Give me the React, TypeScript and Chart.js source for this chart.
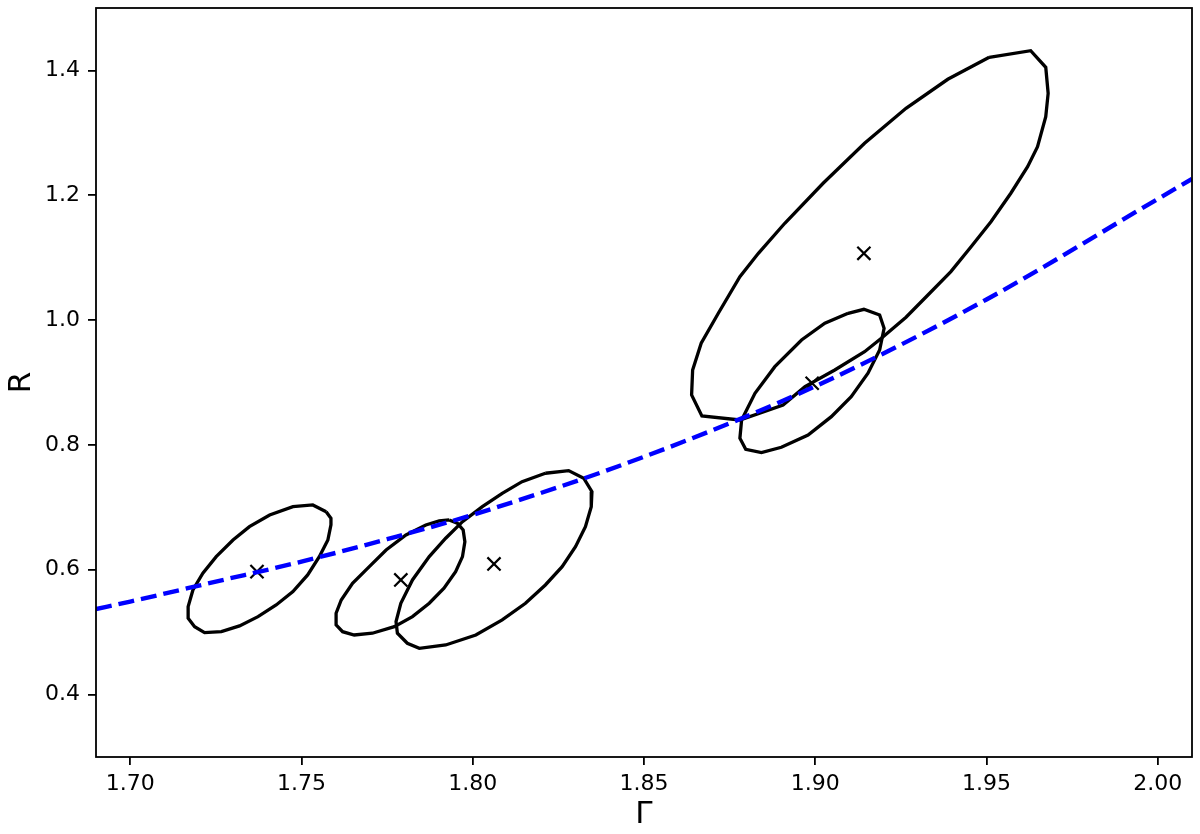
import React, { useEffect, useRef } from "react";
import { Chart, registerables } from "chart.js";

Chart.register(...registerables);

const X_TICKS = [1.7, 1.75, 1.8, 1.85, 1.9, 1.95, 2.0];
const Y_TICKS = [0.4, 0.6, 0.8, 1.0, 1.2, 1.4];

// blue dashed relation R(Γ)
const CURVE_GAMMA = [1.69, 1.7, 1.725, 1.75, 1.775, 1.8, 1.85, 1.9, 1.95, 2.0, 2.01];
const CURVE_R = [0.537, 0.549, 0.581, 0.613, 0.649, 0.688, 0.781, 0.894, 1.033, 1.194, 1.226];

// best-fit points (x markers)
const BEST_GAMMA = [1.737, 1.779, 1.8062, 1.9142, 1.8991];
const BEST_R = [0.597, 0.5837, 0.6093, 1.107, 0.8988];

// confidence contours
const C1_GAMMA = [1.7572, 1.7586, 1.7586, 1.7577, 1.7552, 1.7518, 1.7475, 1.7426, 1.7373, 1.7319, 1.7266, 1.7217, 1.7188, 1.7169, 1.7169, 1.7183, 1.7212, 1.7251, 1.73, 1.7348, 1.7407, 1.7475, 1.7533];
const C1_R = [0.693, 0.6825, 0.6718, 0.6477, 0.621, 0.5917, 0.5649, 0.5436, 0.5249, 0.51, 0.5008, 0.4992, 0.5088, 0.5223, 0.5409, 0.5676, 0.5944, 0.621, 0.6477, 0.669, 0.6878, 0.7011, 0.7038];

const C2_GAMMA = [1.7931, 1.7955, 1.7972, 1.7977, 1.797, 1.795, 1.7916, 1.7873, 1.7824, 1.7771, 1.7707, 1.7654, 1.762, 1.7601, 1.7601, 1.7616, 1.7649, 1.7698, 1.7747, 1.7805, 1.7863, 1.7902];
const C2_R = [0.6798, 0.6745, 0.6638, 0.645, 0.621, 0.597, 0.5704, 0.5463, 0.5249, 0.5088, 0.4983, 0.4955, 0.5008, 0.5116, 0.5303, 0.5516, 0.5784, 0.605, 0.6317, 0.6557, 0.6718, 0.6782];

const C3_GAMMA = [1.8212, 1.828, 1.8324, 1.8348, 1.8346, 1.8329, 1.83, 1.8261, 1.8212, 1.8154, 1.8086, 1.8009, 1.7921, 1.7844, 1.7809, 1.778, 1.7776, 1.779, 1.7824, 1.7873, 1.7921, 1.797, 1.8028, 1.8086, 1.8144];
const C3_R = [0.7546, 0.7588, 0.7466, 0.7251, 0.7011, 0.669, 0.637, 0.605, 0.5756, 0.5463, 0.5196, 0.4955, 0.4795, 0.4742, 0.4822, 0.4983, 0.5169, 0.5463, 0.5837, 0.621, 0.6505, 0.6771, 0.7011, 0.7225, 0.7411];

const C4_GAMMA = [1.9508, 1.9629, 1.9673, 1.968, 1.9673, 1.9649, 1.962, 1.9571, 1.9513, 1.9455, 1.9396, 1.9329, 1.9265, 1.9193, 1.9144, 1.9057, 1.897, 1.8906, 1.878, 1.8669, 1.8639, 1.8642, 1.8667, 1.8717, 1.878, 1.8834, 1.8911, 1.9023, 1.9144, 1.9265, 1.9387];
const C4_R = [1.421, 1.4316, 1.405, 1.3633, 1.3259, 1.2778, 1.2458, 1.2032, 1.1577, 1.1176, 1.0776, 1.0402, 1.0045, 0.9709, 0.9494, 0.9201, 0.8933, 0.864, 0.84, 0.8464, 0.88, 0.9201, 0.9629, 1.0109, 1.0695, 1.107, 1.1551, 1.2192, 1.2833, 1.3393, 1.3858];

const C5_GAMMA = [1.9096, 1.9142, 1.9188, 1.9201, 1.9188, 1.9154, 1.9105, 1.9047, 1.8979, 1.8901, 1.8843, 1.8797, 1.878, 1.8785, 1.8824, 1.8882, 1.896, 1.9028];
const C5_R = [1.0109, 1.0173, 1.0082, 0.9869, 0.9521, 0.9148, 0.8773, 0.8453, 0.8159, 0.7962, 0.7876, 0.793, 0.8107, 0.84, 0.8827, 0.9254, 0.9681, 0.9949];

const CONTOURS = [
  [C1_GAMMA, C1_R],
  [C2_GAMMA, C2_R],
  [C3_GAMMA, C3_R],
  [C4_GAMMA, C4_R],
  [C5_GAMMA, C5_R],
];

const FONT = "'DejaVu Sans', sans-serif";

function closed(xs: number[], ys: number[]) {
  const pts = xs.map((x, i) => ({ x, y: ys[i] }));
  pts.push({ x: xs[0], y: ys[0] });
  return pts;
}

const framePlugin = {
  id: "frame",
  afterDatasetsDraw(chart: any) {
    const { ctx, chartArea } = chart;
    ctx.save();
    ctx.strokeStyle = "#000";
    ctx.lineWidth = 1.8;
    ctx.strokeRect(chartArea.left, chartArea.top, chartArea.right - chartArea.left, chartArea.bottom - chartArea.top);
    ctx.restore();
  },
};

export default function App() {
  const ref = useRef<HTMLCanvasElement | null>(null);

  useEffect(() => {
    if (!ref.current) return;
    const datasets: any[] = [];
    datasets.push({
      data: CURVE_GAMMA.map((x, i) => ({ x, y: CURVE_R[i] })),
      showLine: true,
      borderColor: "#0000ff",
      borderWidth: 4.4,
      borderDash: [16, 7],
      pointRadius: 0,
      cubicInterpolationMode: "monotone",
      order: 0,
    });
    CONTOURS.forEach(([gx, rx]) => {
      datasets.push({
        data: closed(gx, rx),
        showLine: true,
        borderColor: "#000000",
        borderWidth: 3.3,
        pointRadius: 0,
        tension: 0,
        order: 2,
      });
    });
    datasets.push({
      data: BEST_GAMMA.map((x, i) => ({ x, y: BEST_R[i] })),
      showLine: false,
      pointStyle: "crossRot",
      pointRadius: 9.3,
      pointBorderWidth: 2.2,
      pointBorderColor: "#000000",
      pointBackgroundColor: "#000000",
      order: 1,
    });

    const chart = new Chart(ref.current, {
      type: "scatter",
      data: { datasets },
      plugins: [framePlugin],
      options: {
        responsive: false,
        animation: false,
        events: [],
        layout: { autoPadding: false, padding: { left: 0, right: 8, top: 8, bottom: 0 } },
        plugins: { legend: { display: false }, tooltip: { enabled: false } },
        scales: {
          x: {
            type: "linear",
            min: 1.69,
            max: 2.01,
            afterBuildTicks: (s: any) => {
              s.ticks = X_TICKS.map((v) => ({ value: v }));
            },
            afterFit: (s: any) => {
              s.height = 77;
              s.paddingLeft = 0;
              s.paddingRight = 0;
              s.paddingTop = 0;
              s.paddingBottom = 0;
            },
            border: { display: false },
            grid: { drawOnChartArea: false, drawTicks: true, tickLength: 8, color: "#000", lineWidth: 1.8 },
            ticks: {
              color: "#000",
              padding: 6,
              maxRotation: 0,
              autoSkip: false,
              font: { family: FONT, size: 22 },
              callback: (v: any) => Number(v).toFixed(2),
            },
            title: {
              display: true,
              text: "Γ",
              color: "#000",
              font: { family: FONT, size: 31 },
              padding: { top: 0, bottom: 0 },
            },
          },
          y: {
            type: "linear",
            min: 0.3,
            max: 1.5,
            afterBuildTicks: (s: any) => {
              s.ticks = Y_TICKS.map((v) => ({ value: v }));
            },
            afterFit: (s: any) => {
              s.width = 96;
              s.paddingLeft = 0;
              s.paddingRight = 0;
              s.paddingTop = 0;
              s.paddingBottom = 0;
            },
            border: { display: false },
            grid: { drawOnChartArea: false, drawTicks: true, tickLength: 8, color: "#000", lineWidth: 1.8 },
            ticks: {
              color: "#000",
              padding: 8,
              autoSkip: false,
              font: { family: FONT, size: 22 },
              callback: (v: any) => Number(v).toFixed(1),
            },
            title: {
              display: true,
              text: "R",
              color: "#000",
              font: { family: FONT, size: 31 },
              padding: { top: 3, bottom: 0 },
            },
          },
        },
      },
    } as any);
    return () => chart.destroy();
  }, []);

  return (
    <div style={{ position: "absolute", left: 0, top: 0, width: 1200, height: 834, background: "#fff" }}>
      <canvas ref={ref} width={1200} height={834} style={{ display: "block" }} />
    </div>
  );
}
